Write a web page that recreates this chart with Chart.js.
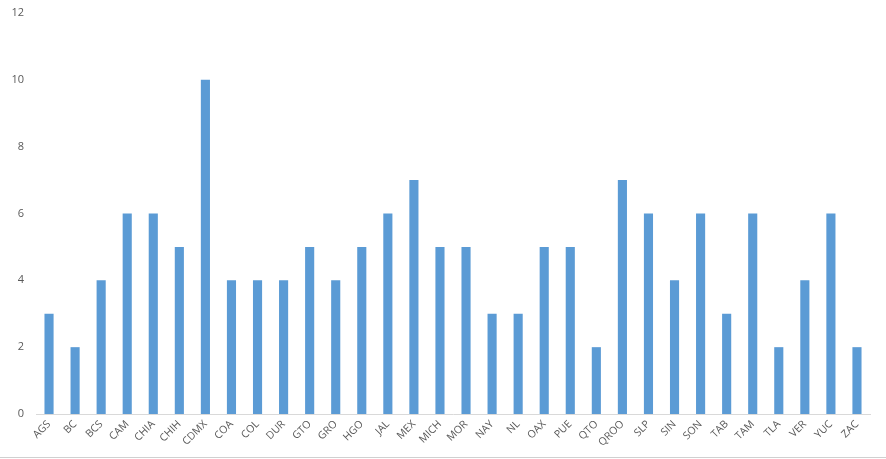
<!DOCTYPE html>
<html>
<head>
<meta charset="utf-8">
<script src="https://cdn.jsdelivr.net/npm/chart.js@4"></script>
<style>
  html, body { margin: 0; padding: 0; background: #fff; }
  #wrap { width: 886px; height: 459px; position: relative; }
  #wrap canvas { display: block; }
  #line { position: absolute; left: 0; top: 457px; width: 886px; height: 1px; background: #d0d0d0; }
</style>
</head>
<body>
<div id="wrap">
  <canvas id="myChart" width="886" height="457"></canvas>
  <div id="line"></div>
</div>
<script>
// state abbreviations along the x axis
var estados = ['AGS', 'BC', 'BCS', 'CAM', 'CHIA', 'CHIH', 'CDMX', 'COA', 'COL', 'DUR', 'GTO', 'GRO', 'HGO', 'JAL', 'MEX', 'MICH',
  'MOR', 'NAY', 'NL', 'OAX', 'PUE', 'QTO', 'QROO', 'SLP', 'SIN', 'SON', 'TAB', 'TAM', 'TLA', 'VER', 'YUC', 'ZAC'];
// one value per state
var valores = [3, 2, 4, 6, 6, 5, 10, 4, 4, 4, 5, 4, 5, 6, 7, 5,
  5, 3, 3, 5, 5, 2, 7, 6, 4, 6, 3, 6, 2, 4, 6, 2];
// y axis range
var yMin = 0, yMax = 12, yStep = 2;

var ctx = document.getElementById('myChart').getContext('2d');

var myChart = new Chart(ctx, {
  type: 'bar',
  data: {
    labels: estados,
    datasets: [{
      data: valores,
      backgroundColor: '#5B9BD5',
      borderWidth: 0,
      categoryPercentage: 1,
      barPercentage: 0.35
    }]
  },
  options: {
    responsive: false,
    animation: false,
    layout: { padding: { top: 13, right: 16, bottom: 0, left: 0 } },
    plugins: {
      legend: { display: false },
      tooltip: { enabled: false }
    },
    scales: {
      x: {
        grid: { display: false, drawTicks: false },
        border: { display: true, color: '#d9d9d9', width: 1 },
        ticks: {
          color: '#595959',
          font: { family: 'Open Sans', size: 10.5 },
          minRotation: 45,
          maxRotation: 45,
          padding: 4,
          autoSkip: false
        },
        afterFit: function (scale) { scale.height = 43; }
      },
      y: {
        min: yMin,
        max: yMax,
        grid: { display: false, drawTicks: false },
        border: { display: false },
        ticks: {
          stepSize: yStep,
          color: '#595959',
          font: { family: 'Open Sans', size: 11 },
          padding: 12
        },
        // fixed axis width, no extra room above the top label
        afterFit: function (scale) { scale.width = 36; scale.paddingTop = 0; }
      }
    }
  }
});
</script>
</body>
</html>
